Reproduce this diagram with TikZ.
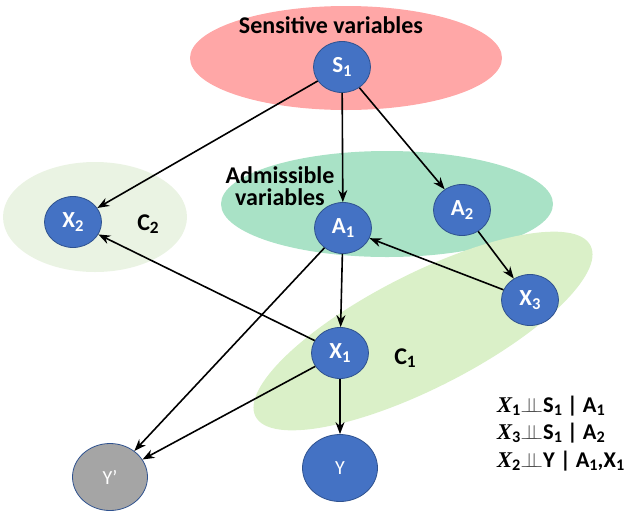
\documentclass[tikz,border=0pt]{standalone}
\usepackage{fontspec}
\setmainfont{Carlito}
\newfontfamily\serf{Liberation Serif}
\usetikzlibrary{shapes.geometric,arrows.meta}
\definecolor{nodeblue}{HTML}{4472C4}
\definecolor{nodeborder}{HTML}{2F528F}
\definecolor{sensred}{HTML}{FFA7A7}
\definecolor{admgreen}{HTML}{A9E2C6}
\definecolor{cone}{HTML}{DAF0C8}
\definecolor{ctwo}{HTML}{EAF3E3}
\definecolor{ygray}{HTML}{A5A5A5}
\newcommand\sbs[1]{\raisebox{-0.3ex}{\scalebox{0.72}{#1}}}
\newcommand\indep{\textcolor{black!70}{\scalebox{1.1}[1]{$\perp\mkern-10mu\perp$}}}
\begin{document}
\begin{tikzpicture}[x=1pt,y=-1pt,
  bnode/.style={ellipse, draw=nodeborder, line width=0.8pt, fill=nodeblue, minimum width=57pt, minimum height=51pt, inner sep=0pt, text=white, font=\bfseries\fontsize{23}{23}\selectfont},
  ynode/.style={ellipse, draw=nodeborder, line width=0.8pt, fill=nodeblue, minimum width=75pt, minimum height=67pt, inner sep=0pt, text=white, font=\fontsize{20}{20}\selectfont},
  lbl/.style={font=\bfseries\fontsize{24}{24}\selectfont, text=black},
  eq/.style={font=\bfseries\fontsize{22.5}{22.5}\selectfont, text=black},
  arr/.style={-{Stealth[length=12pt,width=9pt]}, line width=1.6pt, black}]
\useasboundingbox (0,0) rectangle (631,512);
% backgrounds
\fill[sensred] (346,58) ellipse [x radius=156pt, y radius=52pt];
\fill[admgreen] (387,204) ellipse [x radius=166pt, y radius=53pt];
\fill[ctwo] (95,217) ellipse [x radius=92pt, y radius=55pt];
\fill[cone, shift={(423,331)}, rotate=27] (0,0) ellipse [x radius=188pt, y radius=57pt];
% labels
\node[lbl] (sens) at (331,25) {Sensitive variables};
\node[lbl, align=center] (adm) at (280,186) {Admissible\\[-2pt]variables};
\node[lbl] (c2) at (148,224) {C\sbs{2}};
\node[lbl] (c1) at (405,358) {C\sbs{1}};
% nodes
\node[bnode] (s1) at (342,67) {S\sbs{1}};
\node[bnode] (x2) at (73,222) {X\sbs{2}};
\node[bnode] (a1) at (343,228) {A\sbs{1}};
\node[bnode] (a2) at (462,210) {A\sbs{2}};
\node[bnode] (x3) at (530,300) {X\sbs{3}};
\node[bnode] (x1) at (340,353) {X\sbs{1}};
\node[ynode, fill=ygray] (yp) at (110,477) {Y’};
\node[ynode] (y) at (340,468) {Y};
% arrows
\draw[arr] (s1) -- (x2);
\draw[arr] (s1) -- (a1);
\draw[arr] (s1) -- (a2);
\draw[arr] (a2) -- (x3);
\draw[arr] (x3) -- (a1);
\draw[arr] (a1) -- (x1);
\draw[arr] (a1) -- (yp);
\draw[arr] (x1) -- (x2);
\draw[arr] (x1) -- (yp);
\draw[arr] (x1) -- (y);
% independence statements
\node[eq, anchor=west, inner sep=0pt] (e1) at (497,406) {{\serf\bfseries\itshape X}\sbs{1}\indep S\sbs{1} | A\sbs{1}};
\node[eq, anchor=west, inner sep=0pt] (e2) at (497,433) {{\serf\bfseries\itshape X}\sbs{3}\indep S\sbs{1} | A\sbs{2}};
\node[eq, anchor=west, inner sep=0pt] (e3) at (497,461) {{\serf\bfseries\itshape X}\sbs{2}\indep Y | A\sbs{1},X\sbs{1}};
\end{tikzpicture}
\end{document}
